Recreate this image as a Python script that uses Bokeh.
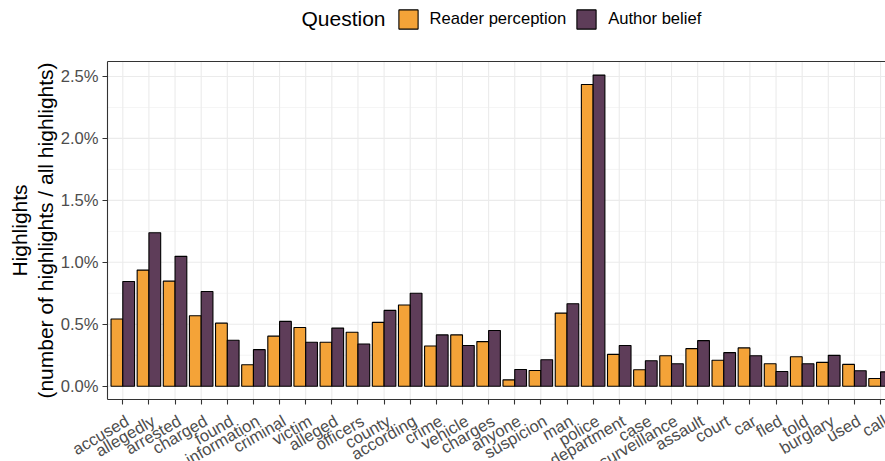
import math
from bokeh.plotting import figure
from bokeh.models import (ColumnDataSource, Range1d, FixedTicker, NumeralTickFormatter,
                          Legend, LegendItem, Label, LabelSet)
from bokeh.embed import file_html
from bokeh.resources import INLINE
from bokeh.core.properties import value

categories = ["accused", "allegedly", "arrested", "charged", "found", "information",
              "criminal", "victim", "alleged", "officers", "county", "according",
              "crime", "vehicle", "charges", "anyone", "suspicion", "man", "police",
              "department", "case", "surveillance", "assault", "court", "car", "fled",
              "told", "burglary", "used", "call"]

# percentages of all highlights
reader_perception = [0.542, 0.937, 0.848, 0.569, 0.509, 0.173, 0.404, 0.474, 0.355, 0.436,
                     0.515, 0.655, 0.325, 0.414, 0.360, 0.051, 0.127, 0.590, 2.435, 0.257,
                     0.133, 0.246, 0.303, 0.209, 0.309, 0.181, 0.238, 0.192, 0.176, 0.062]
author_belief = [0.845, 1.238, 1.048, 0.764, 0.371, 0.295, 0.523, 0.355, 0.469, 0.341,
                 0.612, 0.750, 0.414, 0.328, 0.450, 0.135, 0.214, 0.666, 2.511, 0.328,
                 0.206, 0.181, 0.368, 0.271, 0.246, 0.119, 0.181, 0.249, 0.125, 0.116]

series_names = ["Reader perception", "Author belief"]
series_colors = ["#F4A338", "#5E3D59"]
y_ticks = [0.0, 0.005, 0.01, 0.015, 0.02, 0.025]
y_minor = [0.0025, 0.0075, 0.0125, 0.0175, 0.0225]

FONT = "Liberation Sans"
idx = list(range(len(categories)))

# panel limits (data units) and the whole-canvas ranges
PX0, PX1 = -0.585, 29.189          # panel left, canvas right
PY0, PY1 = -0.00107, 0.02621       # panel bottom, panel top
W, H = 885, 461

src = ColumnDataSource(dict(
    x=idx,
    label=categories,
    x_r=[i - 0.225 for i in idx],
    x_a=[i + 0.225 for i in idx],
    reader=[v / 100 for v in reader_perception],
    author=[v / 100 for v in author_belief],
))

p = figure(width=W, height=H, output_backend="svg", toolbar_location=None,
           x_range=Range1d(-4.680, 29.189), y_range=Range1d(-0.006077, 0.03113),
           min_border=0, min_border_left=0, min_border_right=0,
           min_border_top=0, min_border_bottom=0)
p.outline_line_color = None
p.background_fill_color = "white"
p.border_fill_color = "white"
p.xgrid.visible = False
p.ygrid.visible = False

# grid lines inside the panel
p.segment(x0=idx, x1=idx, y0=PY0, y1=PY1, line_color="#EBEBEB", line_width=1.1)
p.segment(x0=PX0, x1=PX1, y0=y_minor, y1=y_minor, line_color="#EBEBEB", line_width=0.55)
p.segment(x0=PX0, x1=PX1, y0=y_ticks, y1=y_ticks, line_color="#EBEBEB", line_width=1.1)

r1 = p.vbar(x="x_r", top="reader", width=0.45, source=src,
            fill_color=series_colors[0], line_color="black", line_width=1.1)
r2 = p.vbar(x="x_a", top="author", width=0.45, source=src,
            fill_color=series_colors[1], line_color="black", line_width=1.1)

# panel top border
p.segment(x0=[PX0], x1=[PX1], y0=[PY1], y1=[PY1], line_color="#333333", line_width=1.1)

# axes pinned to the panel edges
xax = p.xaxis[0]
xax.fixed_location = PY0
xax.bounds = (PX0, PX1)
xax.ticker = FixedTicker(ticks=[], minor_ticks=idx)
xax.axis_line_color = "#333333"
xax.axis_line_width = 1.1
xax.major_tick_line_color = None
xax.minor_tick_line_color = "#333333"
xax.minor_tick_line_width = 1.1
xax.minor_tick_in = 0
xax.minor_tick_out = 5

yax = p.yaxis[0]
yax.fixed_location = PX0
yax.bounds = (PY0, PY1)
yax.ticker = FixedTicker(ticks=y_ticks)
yax.formatter = NumeralTickFormatter(format="0.0%")
yax.axis_line_color = "#333333"
yax.axis_line_width = 1.1
yax.major_tick_line_color = "#333333"
yax.major_tick_line_width = 1.1
yax.major_tick_in = 0
yax.major_tick_out = 5
yax.minor_tick_line_color = None
yax.major_label_text_font = FONT
yax.major_label_text_font_size = "16.6px"
yax.major_label_text_color = "#4D4D4D"
yax.major_label_standoff = 4

# rotated category labels under the ticks
p.add_layout(LabelSet(x="x", y=50, y_units="screen", text="label", source=src,
                      angle=math.pi / 6, text_align="right", text_baseline="top",
                      text_font=value(FONT), text_font_size=value("16.6px"),
                      text_color="#4D4D4D"))

# y axis title (two lines)
p.add_layout(Label(x=19, y=231, x_units="screen", y_units="screen", angle=math.pi / 2,
                   text="Highlights", text_align="center", text_baseline="alphabetic",
                   text_font=FONT, text_font_size="21px", text_color="black"))
p.add_layout(Label(x=45, y=231, x_units="screen", y_units="screen", angle=math.pi / 2,
                   text="(number of highlights / all highlights)", text_align="center",
                   text_baseline="alphabetic", text_font=FONT, text_font_size="21px",
                   text_color="black"))

# legend
p.add_layout(Label(x=301, y=443, x_units="screen", y_units="screen", text="Question",
                   text_align="left", text_baseline="alphabetic", text_font=FONT,
                   text_font_size="21px", text_color="black"))
legend = Legend(items=[LegendItem(label=series_names[0], renderers=[r1]),
                       LegendItem(label=series_names[1], renderers=[r2])],
                location=(395.6, 430.1), orientation="horizontal", padding=0, margin=0,
                spacing=8, glyph_width=24, glyph_height=24, label_standoff=10,
                label_text_font=FONT, label_text_font_size="16.6px",
                label_text_color="black", border_line_color=None,
                background_fill_alpha=0)
p.add_layout(legend)

open("out.html", "w").write(file_html(p, INLINE))
